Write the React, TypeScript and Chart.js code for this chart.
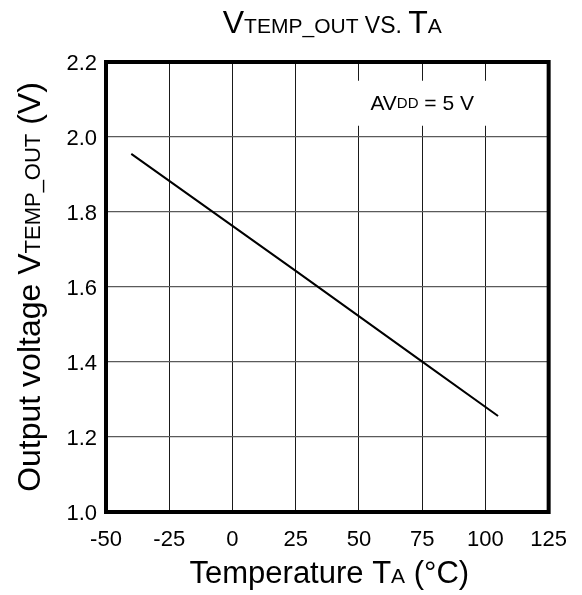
import React, { useEffect, useRef } from "react";
import { Chart, registerables } from "chart.js";

Chart.register(...registerables);

// ---- data ----
const temperatures = [-40, 25, 75, 105];
const vTempOut = [1.955, 1.643, 1.401, 1.256];

const xTickMin = -50;
const xTickMax = 125;
const xTickStep = 25;
const yTickMin = 1.0;
const yTickMax = 2.2;
const yTickStep = 0.2;

// text pieces: [text, font size]
const titleParts: [string, number][] = [["V", 32], ["TEMP_OUT", 21], [" VS. ", 23], ["T", 32], ["A", 21]];
const yTitleParts: [string, number][] = [["Output voltage V", 32], ["TEMP_OUT", 22], [" (V)", 32]];
const xTitleParts: [string, number][] = [["Temperature T", 31], ["A", 21], [" (°C)", 31]];
const noteParts: [string, number][] = [["AV", 21], ["DD", 15], [" = 5 V", 21]];
const noteBox = { x0: 35, x1: 125, y0: 2.03, y1: 2.15, cx: 75, cy: 2.088 };

const FONT = '"Liberation Sans", Arial, Helvetica, sans-serif';

function drawMixed(ctx: CanvasRenderingContext2D, parts: [string, number][], cx: number, y: number) {
  let total = 0;
  const widths: number[] = [];
  for (const [t, s] of parts) {
    ctx.font = `${s}px ${FONT}`;
    const w = ctx.measureText(t).width;
    widths.push(w);
    total += w;
  }
  let x = cx - total / 2;
  ctx.textAlign = "left";
  parts.forEach(([t, s], i) => {
    ctx.font = `${s}px ${FONT}`;
    ctx.fillText(t, x, y);
    x += widths[i];
  });
}

const decorPlugin = {
  id: "decor",
  beforeDatasetsDraw(chart: any) {
    const { ctx, scales } = chart;
    const xs = scales.x, ys = scales.y;
    const l = xs.getPixelForValue(noteBox.x0);
    const r = xs.getPixelForValue(noteBox.x1);
    const t = ys.getPixelForValue(noteBox.y1);
    const b = ys.getPixelForValue(noteBox.y0);
    ctx.save();
    ctx.fillStyle = "#ffffff";
    ctx.fillRect(l, t, r - l, b - t);
    ctx.restore();
  },
  afterDraw(chart: any) {
    const { ctx, chartArea, scales } = chart;
    const { left, right, top, bottom } = chartArea;
    ctx.save();
    // frame
    ctx.strokeStyle = "#000";
    ctx.lineWidth = 4;
    ctx.strokeRect(left, top, right - left, bottom - top);
    ctx.fillStyle = "#000";
    ctx.textBaseline = "alphabetic";
    // title
    drawMixed(ctx, titleParts, (left + right) / 2 + 5, 33);
    // x title
    drawMixed(ctx, xTitleParts, (left + right) / 2 + 2, 583);
    // note
    ctx.textBaseline = "middle";
    drawMixed(ctx, noteParts, scales.x.getPixelForValue(noteBox.cx), scales.y.getPixelForValue(noteBox.cy));
    // y title
    ctx.textBaseline = "alphabetic";
    ctx.translate(40, (top + bottom) / 2);
    ctx.rotate(-Math.PI / 2);
    drawMixed(ctx, yTitleParts, 0, 0);
    ctx.restore();
  },
};

export default function App() {
  const ref = useRef<HTMLCanvasElement>(null);
  useEffect(() => {
    document.body.style.margin = "0";
    const canvas = ref.current!;
    const chart = new Chart(canvas, {
      type: "line",
      data: {
        datasets: [
          {
            data: temperatures.map((t, i) => ({ x: t, y: vTempOut[i] })),
            borderColor: "#000",
            borderWidth: 2,
            pointRadius: 0,
            tension: 0,
            fill: false,
          },
        ],
      },
      options: {
        animation: false,
        responsive: false,
        devicePixelRatio: 1,
        layout: { padding: { top: 62, right: 24, bottom: 0, left: 0 } },
        plugins: { legend: { display: false }, tooltip: { enabled: false }, title: { display: false } },
        scales: {
          x: {
            type: "linear",
            min: xTickMin,
            max: xTickMax,
            afterFit: (s: any) => { s.height = 83; },
            ticks: {
              stepSize: xTickStep,
              color: "#000",
              padding: 15,
              maxRotation: 0,
              font: { family: FONT, size: 22 },
            },
            grid: { color: "#1a1a1a", lineWidth: 1, drawTicks: false },
            border: { display: false },
          },
          y: {
            type: "linear",
            min: yTickMin,
            max: yTickMax,
            afterFit: (s: any) => { s.width = 106; },
            ticks: {
              stepSize: yTickStep,
              color: "#000",
              padding: 9,
              labelOffset: 2,
              font: { family: FONT, size: 22 },
              callback: (v: any) => Number(v).toFixed(1),
            },
            grid: { color: "#5a5a5a", lineWidth: 1.3, drawTicks: false },
            border: { display: false },
          },
        },
      },
      plugins: [decorPlugin],
    });
    return () => chart.destroy();
  }, []);
  return (
    <div style={{ width: 582, height: 595 }}>
      <canvas ref={ref} width={582} height={595} />
    </div>
  );
}
